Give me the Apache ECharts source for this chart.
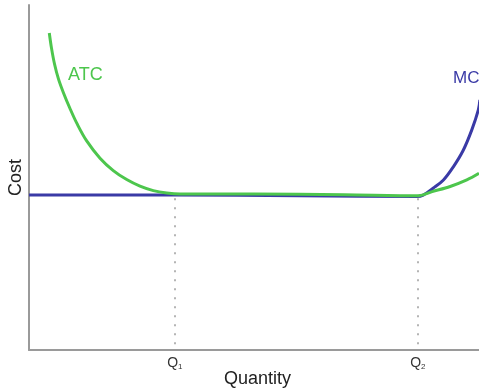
<!DOCTYPE html>
<html><head><meta charset="utf-8">
<script src="https://cdn.jsdelivr.net/npm/echarts@6/dist/echarts.min.js"></script>
<style>html,body{margin:0;padding:0;background:#fff}#c{width:479px;height:391px}</style>
</head><body><div id="c"></div>
<script>
const atcPoints = [[4.51,91.9],[5.0,87.5],[5.67,82.9],[6.56,78.5],[7.67,74.5],[9.11,70.0],[10.67,65.6],[12.82,60.6],[15.78,55.6],[18.73,52.0],[21.71,49.4],[24.67,47.5],[27.62,46.2],[30.6,45.5],[33.56,45.2],[50,45.2],[70,45.0],[86.5,44.7],[89.6,45.9],[93.6,47.4],[97.3,49.3],[100,51.2]];
const mcPoints = [[0,44.9],[32.4,44.9],[60,44.7],[86.2,44.5],[87.6,44.9],[89.8,46.9],[92.1,49.3],[94.3,53.1],[96.5,57.9],[98.4,63.8],[99.85,69.6],[100.2,72.5]];
const qPositions = [32.4, 86.4];
const qLabels = ['1','2'];
const flatLevel = 44.0;
const labelsText = {atc:'ATC', mc:'MC'};

const chart = echarts.init(document.getElementById('c'));
chart.setOption({
  animation:false,
  grid:{left:29,right:0,top:5,bottom:41,containLabel:false,outerBoundsMode:'none'},
  xAxis:{type:'value',min:0,max:100,
    name:'Quantity',nameLocation:'middle',nameGap:20,nameMoveOverlap:false,
    nameTextStyle:{fontFamily:'Liberation Sans',fontSize:18,color:'#222',padding:[0,0,0,7]},
    axisLine:{lineStyle:{color:'#9a9a9a',width:2}},
    axisTick:{show:false},splitLine:{show:false},
    axisLabel:{customValues:qPositions,margin:6,
      formatter:(v)=>{const i=qPositions.indexOf(v);return i<0?'':'Q{s|'+qLabels[i]+'}';},
      fontFamily:'Liberation Sans',fontSize:14,color:'#333',
      rich:{s:{fontSize:8,padding:[7,0,0,0],color:'#333'}}}
  },
  yAxis:{type:'value',min:0,max:100,
    name:'Cost',nameLocation:'middle',nameGap:4,nameRotate:90,nameMoveOverlap:false,
    nameTextStyle:{fontFamily:'Liberation Sans',fontSize:18,color:'#222'},
    axisLine:{show:true,lineStyle:{color:'#9a9a9a',width:2}},
    axisTick:{show:false},axisLabel:{show:false},splitLine:{show:false}},
  series:[
    {type:'line',data:mcPoints,smooth:0.35,symbol:'none',clip:true,z:2,
     lineStyle:{color:'#3a3aa6',width:3},
     markLine:{silent:true,symbol:'none',label:{show:false},
       lineStyle:{color:'#b4b4b4',type:[2,7],width:2},
       data:qPositions.map(q=>[{coord:[q,flatLevel]},{coord:[q,0.8]}])}},
    {type:'line',data:atcPoints,smooth:0.35,symbol:'none',clip:true,z:3,
     lineStyle:{color:'#4dc64d',width:3}}
  ],
  graphic:[
    {type:'text',left:68,top:66,style:{text:labelsText.atc,fill:'#4dc64d',font:'18px Liberation Sans'}},
    {type:'text',left:453,top:70,style:{text:labelsText.mc,fill:'#3a3aa6',font:'17px Liberation Sans'}}
  ]
});
</script></body></html>
